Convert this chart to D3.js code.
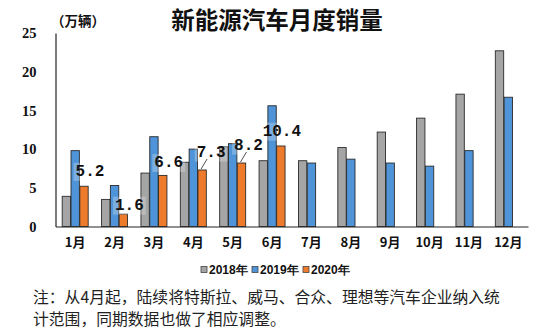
<!DOCTYPE html>
<html><head><meta charset="utf-8">
<script src="https://cdn.jsdelivr.net/npm/d3@7"></script>
<style>body{margin:0;background:#fff;}svg{display:block;}</style>
</head><body>
<script>
const months = ["1月","2月","3月","4月","5月","6月","7月","8月","9月","10月","11月","12月"];
const years = ["2018年","2019年","2020年"];
const sales2018 = [3.9,3.5,6.9,8.3,10.3,8.5,8.5,10.2,12.2,14.0,17.1,22.7];
const sales2019 = [9.8,5.3,11.6,10.0,10.7,15.6,8.2,8.7,8.2,7.8,9.8,16.7];
const sales2020 = [5.2,1.6,6.6,7.3,8.2,10.4];
const yTicks = [0,5,10,15,20,25];
const title = "新能源汽车月度销量";
const unitLabel = "（万辆）";
const noteLines = ["注：从4月起，陆续将特斯拉、威马、合众、理想等汽车企业纳入统","计范围，同期数据也做了相应调整。"];

const W = 550, H = 331;
const colors = {"2018年":"#a5a5a5","2019年":"#4f94d8","2020年":"#ee7b2c"};
const svg = d3.select("body").append("svg").attr("width",W).attr("height",H);

const x = d3.scaleBand().domain(months).range([55.5,528]).padding(0);
const xi = d3.scaleBand().domain(years).range([0,x.bandwidth()]).paddingInner(0.05).paddingOuter(0.76);
const y = d3.scaleLinear().domain([0,25]).range([226.5,33]);

const series = [sales2018, sales2019, sales2020];
const bars = [];
series.forEach((arr,si)=>arr.forEach((v,i)=>bars.push({m:months[i],yr:years[si],v})));

// title
svg.append("text").attr("x",277).attr("y",28.5).attr("text-anchor","middle")
  .attr("font-family","'Noto Sans CJK SC'").attr("font-weight","bold").attr("font-size",23.5)
  .attr("fill","#111").text(title);
svg.append("text").attr("x",51).attr("y",26)
  .attr("font-family","'Noto Sans CJK SC'").attr("font-weight","bold").attr("font-size",13.5)
  .attr("fill","#111").text(unitLabel);

// y axis
const yAxis = d3.axisLeft(y).tickValues(yTicks).tickSize(0).tickPadding(19);
const gy = svg.append("g").attr("transform","translate(55.5,0)").call(yAxis);
gy.select(".domain").attr("stroke","#222").attr("stroke-width",1.2);
gy.selectAll("text").attr("font-family","'Liberation Serif'").attr("font-weight","bold")
  .attr("font-size",14.5).attr("fill","#111");

// bars
svg.append("g").selectAll("rect").data(bars).join("rect")
  .attr("x",d=>x(d.m)+xi(d.yr))
  .attr("y",d=>y(d.v))
  .attr("width",xi.bandwidth())
  .attr("height",d=>y(0)-y(d.v))
  .attr("fill",d=>colors[d.yr])
  .attr("stroke","#2b2b2b").attr("stroke-width",0.9);

// x axis
const xAxis = d3.axisBottom(x).tickSize(0).tickPadding(11);
const gx = svg.append("g").attr("transform",`translate(0,${y(0)})`).call(xAxis);
gx.select(".domain").attr("stroke","#222").attr("stroke-width",1.2);
gx.selectAll("text").attr("font-family","'Noto Sans CJK SC'").attr("font-weight","bold")
  .attr("font-size",13).attr("fill","#111");

// 2020 data labels
const nudge = {"1月":[6,-16],"2月":[6,-10],"3月":[6,-14],"4月":[9,-19],"5月":[7,-19],"6月":[1,-16]};
const leader = {"4月":true,"5月":true};
const lg = svg.append("g");
sales2020.forEach((v,i)=>{
  const m = months[i];
  const cx = x(m)+xi("2020年")+xi.bandwidth()/2;
  const top = y(v);
  const [dx,dy] = nudge[m];
  const lx = cx+dx, ly = top+dy;
  const t = lg.append("text").attr("x",lx).attr("y",ly).attr("dy","0.35em")
    .attr("text-anchor","middle").attr("font-family","'Liberation Mono'")
    .attr("font-weight","bold").attr("font-size",16).attr("fill","#111")
    .text(v.toFixed(1));
  const bb = t.node().getBBox();
  lg.insert("rect","text").attr("x",bb.x-2).attr("y",bb.y).attr("width",bb.width+4).attr("height",bb.height)
    .attr("fill","#fff").attr("opacity",0.25);
  if (leader[m]) {
    lg.append("line").attr("x1",cx-1).attr("y1",top-1).attr("x2",cx+5).attr("y2",ly+8)
      .attr("stroke","#222").attr("stroke-width",0.8);
  }
});

// legend
const leg = svg.append("g").attr("transform","translate(201,270)");
const legX = [0,51,102];
years.forEach((yr,i)=>{
  const g = leg.append("g").attr("transform",`translate(${legX[i]},0)`);
  g.append("rect").attr("x",0).attr("y",-3.5).attr("width",6).attr("height",6)
    .attr("fill",colors[yr]).attr("stroke","#444").attr("stroke-width",0.8);
  g.append("text").attr("x",8).attr("y",0).attr("dy","0.36em")
    .attr("font-family","'Liberation Sans'").attr("font-weight","bold").attr("font-size",12)
    .attr("fill","#111").text(yr);
});

// note
noteLines.forEach((ln,i)=>{
  svg.append("text").attr("x",33).attr("y",303+i*22)
    .attr("font-family","'Noto Sans CJK SC'").attr("font-size",15.8).attr("fill","#222").text(ln);
});
</script>
</body></html>
